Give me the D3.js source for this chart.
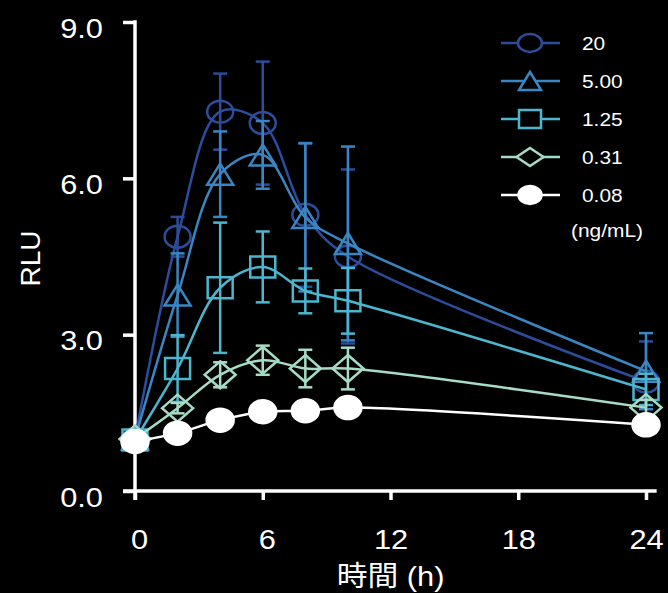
<!DOCTYPE html>
<html>
<head>
<meta charset="utf-8">
<script src="https://cdn.jsdelivr.net/npm/d3@7"></script>
<style>
  html, body { margin: 0; padding: 0; background: #000; }
  svg { display: block; }
  text { font-family: "Liberation Sans", Arial, "Noto Sans CJK JP", sans-serif; fill: #fff; }
</style>
</head>
<body>
<svg id="chart" width="668" height="593"></svg>
<script>
// Sampling times (h)
const times = [0, 2, 4, 6, 8, 10, 24];

// Dose groups (ng/mL)
const doseLabels = ["20", "5.00", "1.25", "0.31", "0.08"];

// Mean RLU per dose group
const mean20  = [1.00, 4.88, 7.28, 7.06, 5.30, 4.50, 2.10];
const mean500 = [1.00, 3.76, 6.08, 6.45, 5.25, 4.75, 2.30];
const mean125 = [0.98, 2.35, 3.90, 4.30, 3.84, 3.65, 1.95];
const mean031 = [1.00, 1.59, 2.23, 2.51, 2.35, 2.35, 1.60];
const mean008 = [0.95, 1.11, 1.36, 1.52, 1.54, 1.60, 1.27];

// Standard deviations
const sd20  = [0.05, 0.38, 0.73, 1.18, 1.38, 1.67, 0.77];
const sd500 = [0.05, 0.80, 0.82, 0.65, 1.42, 1.86, 0.73];
const sd125 = [0.05, 0.64, 1.25, 0.68, 0.43, 0.63, 0.30];
const sd031 = [0.05, 0.10, 0.24, 0.28, 0.36, 0.40, 0.15];
const sd008 = [0.03, 0.05, 0.06, 0.15, 0.08, 0.08, 0.05];

// Axis ticks
const xTicks = [0, 6, 12, 18, 24];
const yTicks = [0, 3, 6, 9];

const colors  = ["#2C4D9C", "#3A86C2", "#4CB6CF", "#A6DCC5", "#FFFFFF"];
const symbols = ["circle", "triangle", "square", "diamond", "dot"];
const means   = [mean20, mean500, mean125, mean031, mean008];
const sds     = [sd20, sd500, sd125, sd031, sd008];

const series = doseLabels.map((label, i) => ({
  label,
  color: colors[i],
  symbol: symbols[i],
  points: times.map((t, j) => ({ t, m: means[i][j], sd: sds[i][j] }))
}));

const svg = d3.select("#chart");
const SX = 1.1; // horizontal text stretch

const x = d3.scaleLinear().domain([0, 24]).range([135, 646]);
const y = d3.scaleLinear().domain([0, 9]).range([491, 22]);

// Marker path (centred on 0,0), w x h box
function symbolPath(kind, w, h) {
  const hw = w / 2, hh = h / 2;
  if (kind === "circle" || kind === "dot") {
    return `M${-hw},0A${hw},${hh} 0 1,0 ${hw},0A${hw},${hh} 0 1,0 ${-hw},0Z`;
  }
  if (kind === "triangle") return `M0,${-hh}L${hw},${hh}L${-hw},${hh}Z`;
  if (kind === "square") return `M${-hw},${-hh}L${hw},${-hh}L${hw},${hh}L${-hw},${hh}Z`;
  return `M0,${-hh}L${hw},0L0,${hh}L${-hw},0Z`;
}
const plotSize = {
  circle: [26, 22], triangle: [26, 21], square: [25, 21], diamond: [31, 27], dot: [27, 23]
};
const legendSize = {
  circle: [24, 18], triangle: [22, 18], square: [22, 18], diamond: [27, 18], dot: [23, 18]
};

// ---- Axes ----
const axisW = 3.5;
const gx = svg.append("g").attr("transform", `translate(0,${y(0)})`)
  .call(d3.axisBottom(x).tickValues(xTicks).tickSize(9).tickSizeOuter(0));
gx.select(".domain").remove();
gx.selectAll(".tick line").attr("stroke", "#fff").attr("stroke-width", axisW);
gx.selectAll(".tick text")
  .attr("y", 0).attr("dy", 0)
  .attr("transform", d => `translate(${d < 10 ? 4 : 0},58) scale(${SX},1)`)
  .attr("font-size", 28).attr("fill", "#fff");
gx.append("line")
  .attr("x1", x(0) - 12).attr("x2", x(24.5))
  .attr("y1", 0).attr("y2", 0)
  .attr("stroke", "#fff").attr("stroke-width", axisW);

const gy = svg.append("g").attr("transform", `translate(${x(0)},0)`)
  .call(d3.axisLeft(y).tickValues(yTicks).tickFormat(d3.format(".1f")).tickSize(12).tickSizeOuter(0));
gy.select(".domain").remove();
gy.selectAll(".tick line").attr("stroke", "#fff").attr("stroke-width", axisW);
gy.selectAll(".tick text")
  .attr("x", 0).attr("dy", 0)
  .attr("transform", `translate(-32,15) scale(${SX},1)`)
  .attr("font-size", 28).attr("fill", "#fff");
gy.append("line")
  .attr("x1", 0).attr("x2", 0)
  .attr("y1", y(9) - axisW / 2).attr("y2", y(0) + 9)
  .attr("stroke", "#fff").attr("stroke-width", axisW);

// Axis titles
svg.append("text")
  .attr("transform", `translate(${(x(0) + x(24)) / 2},586) scale(${SX},1)`)
  .attr("text-anchor", "middle").attr("font-size", 28)
  .text("時間 (h)");
svg.append("text")
  .attr("transform", `translate(40,${y(4.5) + 2}) rotate(-90)`)
  .attr("text-anchor", "middle").attr("font-size", 28)
  .text("RLU");

// ---- Data ----
const line = d3.line()
  .x(d => x(d.t)).y(d => y(d.m))
  .curve(d3.curveCatmullRom.alpha(0.5));

const lw = 2.5, capW = 14;

series.forEach(s => {
  const g = svg.append("g");
  // error bars
  const eb = g.selectAll(".eb").data(s.points).enter().append("g")
    .attr("stroke", s.color).attr("stroke-width", lw);
  eb.append("line")
    .attr("x1", d => x(d.t)).attr("x2", d => x(d.t))
    .attr("y1", d => y(d.m + d.sd)).attr("y2", d => y(d.m - d.sd));
  eb.append("line")
    .attr("x1", d => x(d.t) - capW / 2).attr("x2", d => x(d.t) + capW / 2)
    .attr("y1", d => y(d.m + d.sd)).attr("y2", d => y(d.m + d.sd));
  eb.append("line")
    .attr("x1", d => x(d.t) - capW / 2).attr("x2", d => x(d.t) + capW / 2)
    .attr("y1", d => y(d.m - d.sd)).attr("y2", d => y(d.m - d.sd));
  // connecting curve
  g.append("path").datum(s.points)
    .attr("d", line).attr("fill", "none")
    .attr("stroke", s.color).attr("stroke-width", lw);
  // markers
  const [w, h] = plotSize[s.symbol];
  g.selectAll(".mk").data(s.points).enter().append("path")
    .attr("transform", d => `translate(${x(d.t)},${y(d.m)})`)
    .attr("d", symbolPath(s.symbol, w, h))
    .attr("fill", s.symbol === "dot" ? s.color : "none")
    .attr("stroke", s.color).attr("stroke-width", lw);
});

// ---- Legend ----
const legendRows = [43, 81, 119, 157, 195];
const lg = svg.append("g");
series.forEach((s, i) => {
  const row = lg.append("g").attr("transform", `translate(0,${legendRows[i]})`);
  row.append("line").attr("x1", 501).attr("x2", 560).attr("y1", 0).attr("y2", 0)
    .attr("stroke", s.color).attr("stroke-width", lw);
  const [w, h] = legendSize[s.symbol];
  row.append("path").attr("transform", "translate(530,0)")
    .attr("d", symbolPath(s.symbol, w, h))
    .attr("fill", s.symbol === "dot" ? s.color : "#000")
    .attr("stroke", s.color).attr("stroke-width", lw);
  row.append("text")
    .attr("transform", `translate(582,7) scale(${SX},1)`)
    .attr("font-size", 19).text(s.label);
});
lg.append("text")
  .attr("transform", `translate(571,237) scale(${SX},1)`)
  .attr("font-size", 19).text("(ng/mL)");
</script>
</body>
</html>
